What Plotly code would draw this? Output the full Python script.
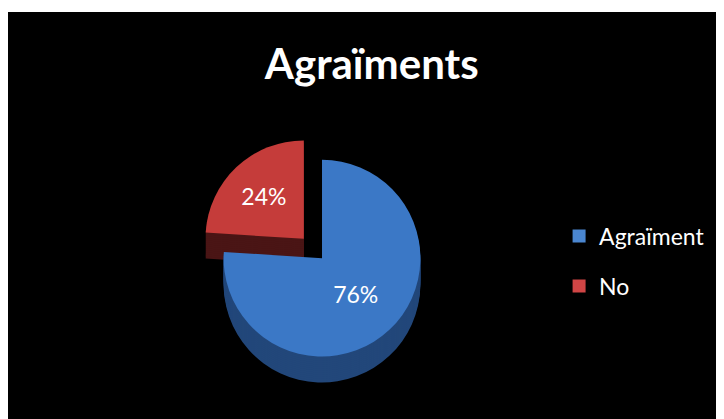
import plotly.graph_objects as go

labels = ["Agraïment", "No"]
values = [76, 24]
top_colors = ["#3B78C6", "#C53C3A"]
side_colors = ["#22477A", "#4A1515"]
legend_colors = ["#4A86D0", "#D04545"]
pulls = [0.03, 0.24]

# page body adds an 8px offset; figure is sized to the visible window
W, H = 716, 411
ML, MR, MT, MB = 0, 4, 4, 0
PW, PH = W - ML - MR, H - MT - MB

def domain(cx, cy, d):
    x0 = (cx - d / 2 - ML) / PW
    x1 = (cx + d / 2 - ML) / PW
    y0 = (H - MB - (cy + d / 2)) / PH
    y1 = (H - MB - (cy - d / 2)) / PH
    return dict(x=[x0, x1], y=[y0, y1])

fig = go.Figure()
D = 244
CX, CY = 312, 248
depth = 26
for off in range(depth, 0, -2):
    fig.add_trace(go.Pie(
        labels=labels, values=values, sort=False, direction="clockwise", rotation=0,
        pull=pulls, marker=dict(colors=side_colors, line=dict(width=0)),
        textinfo="none", hoverinfo="skip", showlegend=False,
        domain=domain(CX, CY + off, D),
    ))
fig.add_trace(go.Pie(
    labels=labels, values=values, sort=False, direction="clockwise", rotation=0,
    pull=pulls, marker=dict(colors=top_colors, line=dict(width=0)),
    textinfo="percent", texttemplate="%{percent:.0%}", textposition="inside",
    insidetextfont=dict(color="white", size=23, family="Lato"),
    showlegend=False,
    domain=domain(CX, CY, D),
))
for lab, col in zip(labels, legend_colors):
    fig.add_trace(go.Scatter(
        x=[None], y=[None], mode="markers", name=lab, legendgroup=lab,
        marker=dict(symbol="square", size=13, color=col, line=dict(width=0)),
    ))

fig.update_layout(
    width=W, height=H,
    margin=dict(l=ML, r=MR, t=MT, b=MB, autoexpand=False),
    paper_bgcolor="white", plot_bgcolor="rgba(0,0,0,0)",
    xaxis=dict(visible=False), yaxis=dict(visible=False),
    title=dict(text="<b>Agraïments</b>", x=0.508, xanchor="center", y=0.862, yanchor="middle",
               font=dict(family="Lato", size=42, color="white")),
    legend=dict(x=0.774, y=0.388, xanchor="left", yanchor="middle",
                font=dict(family="Lato", size=23, color="white"),
                bgcolor="rgba(0,0,0,0)", tracegroupgap=17, itemwidth=30),
    shapes=[dict(type="rect", xref="paper", yref="paper", x0=0, x1=1, y0=0, y1=1,
                 fillcolor="black", line=dict(width=0), layer="below")],
)
fig.write_html("out.html")
